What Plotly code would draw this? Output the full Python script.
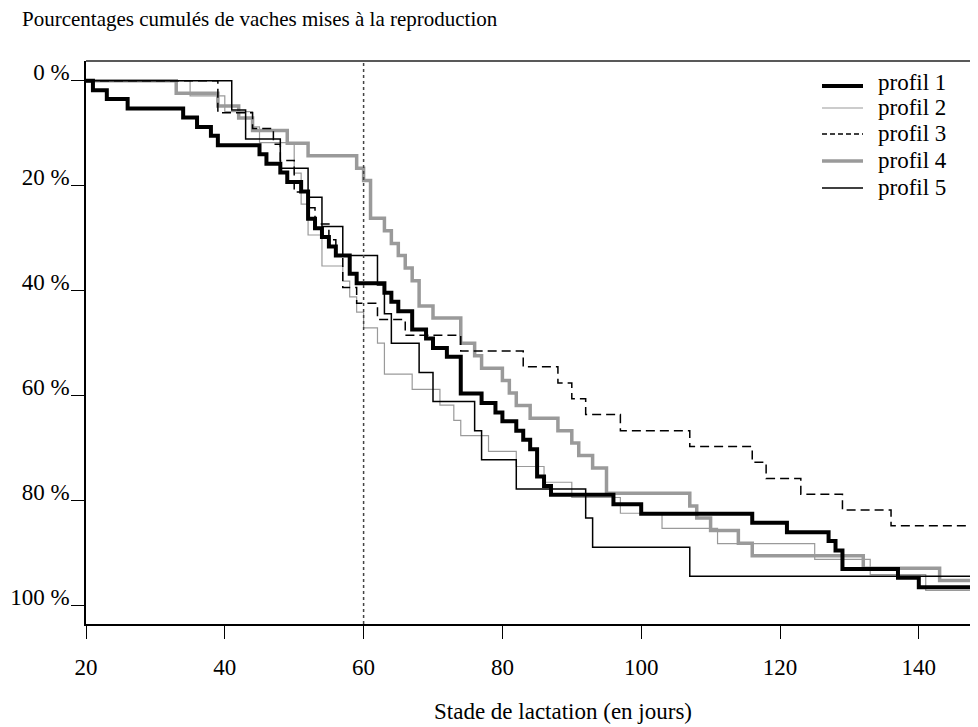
import plotly.graph_objects as go

# ---------------- data ----------------
start_day = 20
end_day = 150
reference_day = 60

profil1_days = [21, 23, 26, 34, 36, 38, 39, 45, 46, 48, 49, 51, 52, 53, 54, 55, 56, 58, 59, 63, 64, 65, 67,
                69, 70, 72, 74, 77, 79, 80, 82, 83, 84, 85, 86, 87, 96, 100, 116, 121, 127, 128, 129, 137, 140]
profil1_pct = [1.8, 3.5, 5.3, 7.0, 8.8, 10.5, 12.3, 14.0, 15.8, 17.5, 19.3, 21.1, 26.3, 28.1, 29.8, 31.6, 33.3,
               36.8, 38.6, 40.4, 42.1, 43.9, 47.4, 49.1, 50.9, 52.6, 59.6, 61.4, 63.2, 64.9, 66.7, 68.4, 70.2,
               75.4, 77.2, 78.9, 80.7, 82.5, 84.2, 86.0, 87.7, 89.5, 93.0, 94.7, 96.5]

profil2_days = [35, 40, 44, 45, 50, 51, 52, 54, 57, 58, 59, 60, 62, 63, 67, 71, 73, 74, 78, 82, 86, 90, 97,
                103, 111, 125, 133, 141]
profil2_pct = [2.9, 5.9, 8.8, 11.8, 17.6, 23.5, 29.4, 35.3, 38.2, 41.2, 44.1, 47.1, 50.0, 55.9, 58.8, 61.8,
               64.7, 67.6, 70.6, 73.5, 76.5, 79.4, 82.4, 85.3, 88.2, 91.2, 94.1, 97.1]

profil3_days = [39, 44, 47, 48, 50, 52, 53, 55, 56, 57, 59, 62, 66, 74, 83, 88, 90, 92, 97, 107, 116, 118,
                123, 129, 136]
profil3_pct = [6.1, 9.1, 12.1, 15.2, 21.2, 24.2, 27.3, 30.3, 33.3, 39.4, 42.4, 45.5, 48.5, 51.5, 54.5, 57.6,
               60.6, 63.6, 66.7, 69.7, 72.7, 75.8, 78.8, 81.8, 84.8]

profil4_days = [33, 39, 42, 44, 49, 52, 59, 60, 61, 63, 64, 65, 66, 67, 68, 70, 74, 76, 77, 80, 81, 82, 84,
                88, 90, 91, 93, 95, 107, 108, 110, 114, 116, 132, 143]
profil4_pct = [2.4, 4.8, 7.1, 9.5, 11.9, 14.3, 16.7, 19.0, 26.2, 28.6, 31.0, 33.3, 35.7, 38.1, 42.9, 45.2,
               50.0, 52.4, 54.8, 57.1, 59.5, 61.9, 64.3, 66.7, 69.0, 71.4, 73.8, 78.6, 81.0, 83.3, 85.7,
               88.1, 90.5, 92.9, 95.2]

profil5_days = [41, 43, 48, 52, 54, 57, 62, 63, 64, 68, 70, 76, 77, 82, 92, 93, 107]
profil5_pct = [5.6, 11.1, 16.7, 22.2, 27.8, 33.3, 38.9, 44.4, 50.0, 55.6, 61.1, 66.7, 72.2, 77.8, 83.3,
               88.9, 94.4]

names = ["profil 1", "profil 2", "profil 3", "profil 4", "profil 5"]
y_ticks = [0, 20, 40, 60, 80, 100]
y_ticktext = ["0 %", "20 %", "40 %", "60 %", "80 %", "100 %"]
x_ticks = [20, 40, 60, 80, 100, 120, 140]

title_text = "Pourcentages cumulés de vaches mises à la reproduction"
xaxis_text = "Stade de lactation (en jours)"

# ---------------- styles ----------------
FONT = "Liberation Serif, Times New Roman, serif"
GRAY = "#9a9a9a"
styles = {
    "profil 1": dict(color="black", width=4, dash="solid"),
    "profil 2": dict(color=GRAY, width=1.2, dash="solid"),
    "profil 3": dict(color="black", width=1.5, dash="9px,5px"),
    "profil 4": dict(color=GRAY, width=3.5, dash="solid"),
    "profil 5": dict(color="black", width=1.5, dash="solid"),
}
series = {
    "profil 1": (profil1_days, profil1_pct),
    "profil 2": (profil2_days, profil2_pct),
    "profil 3": (profil3_days, profil3_pct),
    "profil 4": (profil4_days, profil4_pct),
    "profil 5": (profil5_days, profil5_pct),
}

fig = go.Figure()
draw_order = ["profil 4", "profil 2", "profil 3", "profil 5", "profil 1"]
for name in draw_order:
    days, pct = series[name]
    xs = [start_day] + days + [end_day]
    ys = [0] + pct + [pct[-1]]
    fig.add_trace(go.Scatter(x=xs, y=ys, mode="lines", line_shape="hv", line=styles[name],
                             name=name, showlegend=False, hoverinfo="skip"))

# layout geometry: the page body has an 8px margin, so figure pixel = screen pixel - 8
OFF = 8
W, H = 978 - OFF, 727 - OFF
plot_left, plot_right, plot_top, plot_bottom = 86 - OFF, 978 - OFF, 61 - OFF, 624 - OFF
L, R, T, B = plot_left, W - plot_right, plot_top, H - plot_bottom
pw, ph = plot_right - plot_left, plot_bottom - plot_top

def px2paper_x(px):  # px in screen coords
    return (px - OFF - plot_left) / pw

def px2paper_y(py):
    return (plot_bottom - (py - OFF)) / ph

shapes = []
annotations = []
# top border
shapes.append(dict(type="line", xref="paper", yref="paper", x0=0, x1=1, y0=1, y1=1,
                   line=dict(color="#222", width=1.3)))
# dotted reference line at day 60
shapes.append(dict(type="line", xref="x", yref="paper", x0=reference_day, x1=reference_day, y0=0, y1=1,
                   line=dict(color="#444", width=1.5, dash="dot")))

# manual legend
leg_line_y = [86, 108, 134, 161, 188]
leg_text_y = [82, 107, 133, 160, 187]
for i, name in enumerate(names):
    st = styles[name]
    shapes.append(dict(type="line", xref="paper", yref="paper",
                       x0=px2paper_x(822), x1=px2paper_x(863),
                       y0=px2paper_y(leg_line_y[i]), y1=px2paper_y(leg_line_y[i]),
                       line=dict(color=st["color"], width=st["width"],
                                 dash="5px,3px" if name == "profil 3" else "solid")))
    annotations.append(dict(text=name, xref="paper", yref="paper", x=px2paper_x(876),
                            y=px2paper_y(leg_text_y[i]), xanchor="left", yanchor="middle",
                            showarrow=False, font=dict(family=FONT, size=23, color="black")))

annotations.append(dict(text=xaxis_text, xref="paper", yref="paper", x=px2paper_x(563),
                        y=px2paper_y(711), xanchor="center", yanchor="middle", showarrow=False,
                        font=dict(family=FONT, size=23, color="black")))

fig.update_layout(
    width=W, height=H,
    margin=dict(l=L, r=R, t=T, b=B, pad=0),
    paper_bgcolor="white", plot_bgcolor="white",
    title=dict(text=title_text, xref="container", yref="container", x=(22 - OFF) / W, xanchor="left",
               y=1 - (19 - OFF) / H, yanchor="middle", font=dict(family=FONT, size=21, color="black")),
    showlegend=False,
    shapes=shapes, annotations=annotations,
    font=dict(family=FONT, size=23, color="black"),
)
fig.update_xaxes(range=[start_day, start_day + pw / 6.94], tickvals=x_ticks, ticks="outside", ticklen=13,
                 tickwidth=1, tickcolor="black", showline=True, linecolor="black", linewidth=2,
                 showgrid=False, zeroline=False, ticklabelstandoff=8,
                 tickfont=dict(family=FONT, size=23, color="black"))
fig.update_yaxes(range=[103.5, -3.75], tickvals=y_ticks, ticktext=y_ticktext, ticks="outside", ticklen=13,
                 tickwidth=1, tickcolor="black", showline=True, linecolor="black", linewidth=1.5,
                 showgrid=False, zeroline=False, ticklabelstandoff=-3, ticklabelshift=9,
                 tickfont=dict(family=FONT, size=23, color="black"))

fig.write_html("out.html")
